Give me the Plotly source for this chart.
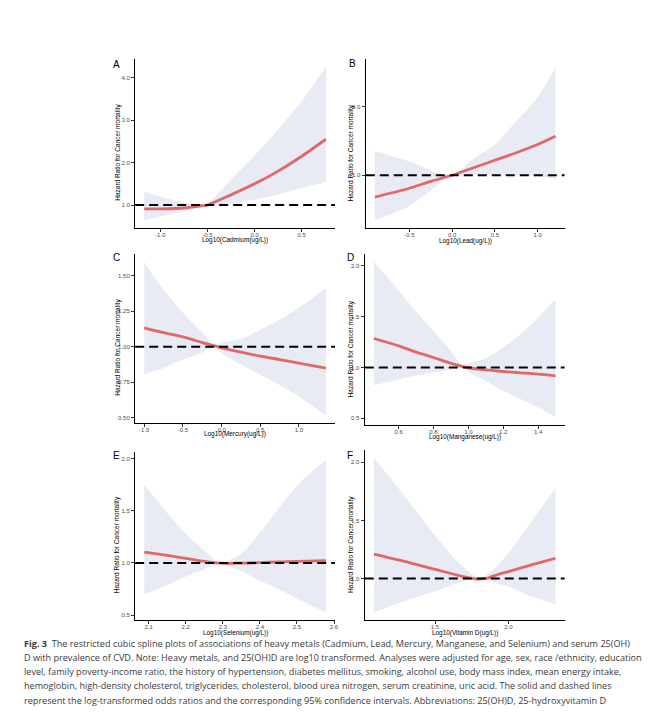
import plotly.graph_objects as go

W, H = 665, 723

# ---------------- data ----------------
# A  Cadmium
cd_x  = [-1.17, -1.0, -0.75, -0.55, -0.5, -0.25, 0.0, 0.25, 0.5, 0.756]
cd_hr = [0.91, 0.91, 0.93, 0.985, 1.0, 1.24, 1.5, 1.8, 2.15, 2.55]
cd_lo = [0.64, 0.73, 0.85, 0.975, 0.99, 1.03, 1.13, 1.25, 1.40, 1.54]
cd_hi = [1.32, 1.20, 1.06, 1.0, 1.02, 1.6, 2.17, 2.78, 3.45, 4.26]

# B  Lead
pb_x  = [-0.904, -0.5, -0.25, 0.0, 0.25, 0.5, 0.75, 1.0, 1.21]
pb_hr = [0.68, 0.81, 0.91, 1.0, 1.11, 1.22, 1.33, 1.45, 1.57]
pb_lo = [0.34, 0.55, 0.78, 1.0, 1.01, 1.01, 1.0, 0.98, 0.95]
pb_hi = [1.35, 1.20, 1.07, 1.0, 1.24, 1.45, 1.79, 2.14, 2.59]

# C  Mercury
hg_x  = [-1.0, -0.75, -0.5, -0.25, -0.1, 0.0, 0.25, 0.5, 0.75, 1.0, 1.35]
hg_hr = [1.134, 1.10, 1.07, 1.03, 1.008, 0.993, 0.962, 0.934, 0.91, 0.885, 0.85]
hg_lo = [0.805, 0.85, 0.91, 0.96, 1.003, 0.955, 0.875, 0.805, 0.73, 0.65, 0.517]
hg_hi = [1.60, 1.40, 1.24, 1.10, 1.013, 1.03, 1.055, 1.12, 1.19, 1.275, 1.415]

# D  Manganese
mn_x  = [0.458, 0.6, 0.7, 0.8, 0.9, 0.97, 1.0, 1.1, 1.2, 1.3, 1.4, 1.5]
mn_hr = [1.285, 1.213, 1.15, 1.098, 1.04, 1.008, 0.997, 0.976, 0.96, 0.947, 0.934, 0.918]
mn_lo = [0.826, 0.88, 0.92, 0.95, 0.98, 0.998, 0.955, 0.87, 0.77, 0.69, 0.607, 0.51]
mn_hi = [2.04, 1.757, 1.55, 1.36, 1.16, 1.018, 1.04, 1.09, 1.197, 1.33, 1.49, 1.67]

# E  Selenium
se_x  = [2.088, 2.15, 2.2, 2.25, 2.29, 2.35, 2.4, 2.45, 2.5, 2.578]
se_hr = [1.105, 1.072, 1.045, 1.015, 0.998, 0.998, 1.004, 1.01, 1.015, 1.022]
se_lo = [0.70, 0.79, 0.87, 0.94, 0.99, 0.92, 0.83, 0.75, 0.66, 0.527]
se_hi = [1.75, 1.48, 1.28, 1.12, 1.005, 1.09, 1.29, 1.52, 1.74, 1.99]

# F  Vitamin D
vd_x  = [1.084, 1.3, 1.5, 1.65, 1.75, 1.8, 1.86, 1.93, 2.0, 2.15, 2.32]
vd_hr = [1.21, 1.145, 1.08, 1.03, 1.002, 0.995, 1.005, 1.035, 1.06, 1.115, 1.175]
vd_lo = [0.71, 0.81, 0.89, 0.96, 0.99, 0.995, 0.985, 0.955, 0.93, 0.85, 0.78]
vd_hi = [2.04, 1.70, 1.37, 1.15, 1.04, 1.0, 1.04, 1.12, 1.22, 1.48, 1.78]

REF_HR = 1.0

letters = ["A", "B", "C", "D", "E", "F"]
x_titles = ["Log10(Cadmium(ug/L))", "Log10(Lead(ug/L))", "Log10(Mercury(ug/L))",
            "Log10(Manganese(ug/L))", "Log10(Selenium(ug/L))", "Log10(Vitamin D(ug/L))"]
y_title = "Hazard Ratio for Cancer mortality"

x_ticks = [[-1.0, -0.5, 0.0, 0.5], [-0.5, 0.0, 0.5, 1.0], [-1.0, -0.5, 0.0, 0.5, 1.0],
           [0.6, 0.8, 1.0, 1.2, 1.4], [2.1, 2.2, 2.3, 2.4, 2.5, 2.6], [1.5, 2.0]]
x_ticktext = [["-1.0", "-0.5", "0.0", "0.5"], ["-0.5", "0.0", "0.5", "1.0"],
              ["-1.0", "-0.5", "0.0", "0.5", "1.0"], ["0.6", "0.8", "1.0", "1.2", "1.4"],
              ["2.1", "2.2", "2.3", "2.4", "2.5", "2.6"], ["1.5", "2.0"]]
y_ticks = [[1.0, 2.0, 3.0, 4.0], [1.0, 2.0], [0.5, 0.75, 1.0, 1.25, 1.5],
           [0.5, 1.0, 1.5, 2.0], [0.5, 1.0, 1.5, 2.0], [1.0, 1.5, 2.0]]
y_ticktext = [["1.0", "2.0", "3.0", "4.0"], ["1.0", "2.0"],
              ["0.50", "0.75", "1.00", "1.25", "1.50"], ["0.5", "1.0", "1.5", "2.0"],
              ["0.5", "1.0", "1.5", "2.0"], ["1.0", "1.5", "2.0"]]

caption_lines = [
    "<b>Fig. 3</b>  The restricted cubic spline plots of associations of heavy metals (Cadmium, Lead, Mercury, Manganese, and Selenium) and serum 25(OH)",
    "D with prevalence of CVD. Note: Heavy metals, and 25(OH)D are log10 transformed. Analyses were adjusted for age, sex, race /ethnicity, education",
    "level, family poverty-income ratio, the history of hypertension, diabetes mellitus, smoking, alcohol use, body mass index, mean energy intake,",
    "hemoglobin, high-density cholesterol, triglycerides, cholesterol, blood urea nitrogen, serum creatinine, uric acid. The solid and dashed lines",
    "represent the log-transformed odds ratios and the corresponding 95% confidence intervals. Abbreviations: 25(OH)D, 25-hydroxyvitamin D",
]

panels = [(cd_x, cd_hr, cd_lo, cd_hi), (pb_x, pb_hr, pb_lo, pb_hi), (hg_x, hg_hr, hg_lo, hg_hi),
          (mn_x, mn_hr, mn_lo, mn_hi), (se_x, se_hr, se_lo, se_hi), (vd_x, vd_hr, vd_lo, vd_hi)]

# ---------------- layout geometry (pixels) ----------------
boxes = [(136, 337, 59, 228), (368, 568, 59, 228),
         (136, 337, 254, 423), (367, 568, 254, 425),
         (136, 337, 452, 620), (367, 568, 450, 620)]
letter_pos = [(117, 64), (355, 63), (117, 257), (353, 257), (117, 455), (352, 455)]
xtitle_y = [240, 241, 434, 437, 633, 633]
ytitle_x = [118, 353, 118, 353, 118, 353]
ytitle_dy = 9

FILL = "#E8EAF4"
LINE = "#E06868"
FONT = "Liberation Sans, Arial, sans-serif"

def px(x):
    return x / W

def py(y):
    return 1 - y / H

fig = go.Figure()
annotations = []
shapes = []

for i, (xs, hr, lo, hi) in enumerate(panels):
    n = "" if i == 0 else str(i + 1)
    xa, ya = "x" + n, "y" + n
    fig.add_trace(go.Scatter(x=xs, y=lo, mode="lines", line=dict(width=0, shape="spline", smoothing=0.8),
                             xaxis=xa, yaxis=ya, showlegend=False, hoverinfo="skip"))
    fig.add_trace(go.Scatter(x=xs, y=hi, mode="lines", line=dict(width=0, shape="spline", smoothing=0.8),
                             fill="tonexty", fillcolor=FILL,
                             xaxis=xa, yaxis=ya, showlegend=False, hoverinfo="skip"))
    fig.add_trace(go.Scatter(x=xs, y=hr, mode="lines", line=dict(color=LINE, width=2.8, shape="spline", smoothing=0.8),
                             xaxis=xa, yaxis=ya, showlegend=False))

    l, r, t, b = boxes[i]
    xmin, xmax = min(xs), max(xs)
    xspan = xmax - xmin
    ymin, ymax = min(lo + hr), max(hi + hr)
    yspan = ymax - ymin
    axis_common = dict(showline=True, linecolor="black", linewidth=1.4, showgrid=False, zeroline=False,
                       ticks="outside", ticklen=3, tickwidth=0.8, tickcolor="#333333",
                       tickfont=dict(size=6, color="#4D4D4D", family=FONT))
    fig.update_layout(**{
        ("xaxis" + n): dict(domain=[px(l), px(r)], anchor=ya,
                            range=[xmin - 0.05 * xspan, xmax + 0.05 * xspan],
                            tickvals=x_ticks[i], ticktext=x_ticktext[i],
                            ticklabelstandoff=-2, **axis_common),
        ("yaxis" + n): dict(domain=[py(b), py(t)], anchor=xa,
                            range=[ymin - 0.05 * yspan, ymax + 0.05 * yspan],
                            tickvals=y_ticks[i], ticktext=y_ticktext[i], **axis_common),
    })
    shapes.append(dict(type="line", xref=xa + " domain", yref=ya, x0=0, x1=1, y0=REF_HR, y1=REF_HR,
                       line=dict(color="black", width=2.1, dash="9px,5px"), layer="above"))

    lx, ly = letter_pos[i]
    annotations.append(dict(text=letters[i], x=px(lx), y=py(ly), xref="paper", yref="paper",
                            showarrow=False, font=dict(size=10, color="black", family=FONT),
                            xanchor="center", yanchor="middle"))
    annotations.append(dict(text=x_titles[i], x=px((l + r) / 2), y=py(xtitle_y[i]), xref="paper", yref="paper",
                            showarrow=False, font=dict(size=6.4, color="black", family=FONT),
                            xanchor="center", yanchor="middle"))
    annotations.append(dict(text=y_title, x=px(ytitle_x[i]), y=py((t + b) / 2 + ytitle_dy), xref="paper", yref="paper",
                            showarrow=False, textangle=-90, font=dict(size=6.5, color="black", family=FONT),
                            xanchor="center", yanchor="middle"))

cap_y0, cap_dy = 643, 14.3
for k, line in enumerate(caption_lines):
    annotations.append(dict(text=line, x=px(22), y=py(cap_y0 + k * cap_dy), xref="paper", yref="paper",
                            showarrow=False, xanchor="left", yanchor="middle", align="left",
                            font=dict(size=9.1, color="#3A3A3A", family="Open Sans, sans-serif")))

fig.update_layout(width=W, height=H, margin=dict(l=0, r=0, t=0, b=0),
                  paper_bgcolor="white", plot_bgcolor="white",
                  annotations=annotations, shapes=shapes, showlegend=False)

fig.write_html("out.html", config={"displayModeBar": False},
               post_script="document.body.style.margin='0';document.body.style.overflow='hidden';")
